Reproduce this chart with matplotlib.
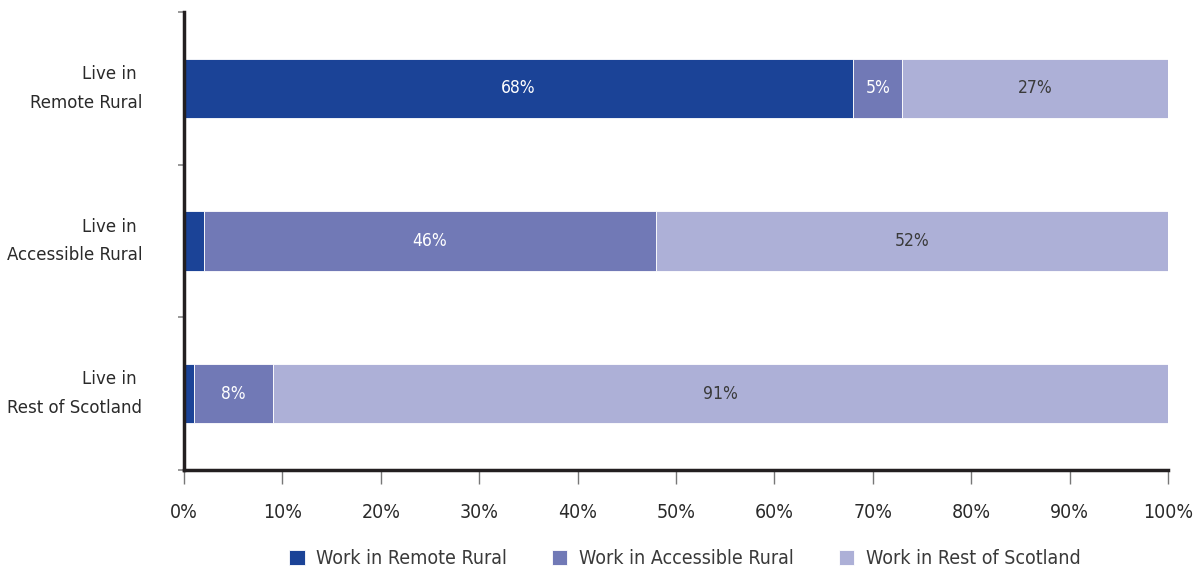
"""Where people work, by where they live"""

import matplotlib
matplotlib.use("Agg")
import matplotlib.pyplot as plt
from matplotlib import font_manager
import numpy as np

# data
categories = ['Live in \nRemote Rural', 'Live in \nAccessible Rural', 'Live in \nRest of Scotland']
series_names = ['Work in Remote Rural', 'Work in Accessible Rural', 'Work in Rest of Scotland']
remote = [68, 2, 1]
accessible = [5, 46, 8]
rest = [27, 52, 91]
labels_remote = ['68%', '', '']
labels_accessible = ['5%', '46%', '8%']
labels_rest = ['27%', '52%', '91%']

colors = ['#1b4397', '#7179b6', '#adb0d7']
text_colors = ['white', 'white', '#3a3a3a']

# the reference uses a narrow face; pick one if installed
names = {(f.name, f.stretch) for f in font_manager.fontManager.ttflist}
if any(n == 'Liberation Sans Narrow' for n, s in names):
    plt.rcParams['font.family'] = ['Liberation Sans Narrow', 'DejaVu Sans']
    scale = 1.05
elif ('DejaVu Sans', 'condensed') in names:
    plt.rcParams['font.family'] = ['DejaVu Sans']
    plt.rcParams['font.stretch'] = 'condensed'
    scale = 1.0
else:
    plt.rcParams['font.family'] = ['Liberation Sans', 'DejaVu Sans']
    scale = 0.9

fig = plt.figure(figsize=(11.96, 5.72), dpi=100)
ax = fig.add_axes([0.1538, 0.1783, 0.8228, 0.8007])

y = np.arange(len(categories))
left = np.zeros(len(categories))
for vals, labs, name, col, tcol in zip([remote, accessible, rest],
                                       [labels_remote, labels_accessible, labels_rest],
                                       series_names, colors, text_colors):
    bars = ax.barh(y, vals, left=left, height=0.39, color=col, label=name,
                   edgecolor='white', linewidth=0.6)
    ax.bar_label(bars, labels=labs, label_type='center', color=tcol, fontsize=12.5 * scale)
    left += np.array(vals)

ax.set_ylim(len(categories) - 0.5, -0.5)
ax.set_xlim(0, 100)

# x axis
ax.set_xticks(np.arange(0, 101, 10))
ax.set_xticklabels([f'{v}%' for v in range(0, 101, 10)], fontsize=14 * scale, color='#2a2a2a')
ax.tick_params(axis='x', length=10, width=1, color='#777777', pad=14)

# y axis: category labels, ticks on category boundaries
ax.set_yticks(y)
ax.set_yticklabels(categories, fontsize=13.3 * scale, color='#2a2a2a', ha='right',
                   va='center', multialignment='right', linespacing=1.75)
ax.tick_params(axis='y', length=0, pad=30)
ax.set_yticks(np.arange(-0.5, len(categories), 1), minor=True)
ax.tick_params(axis='y', which='minor', length=4, width=1.2, color='#888888')

for side in ['top', 'right']:
    ax.spines[side].set_visible(False)
for side in ['left', 'bottom']:
    ax.spines[side].set_linewidth(2.5)
    ax.spines[side].set_color('#231f20')

ax.legend(loc='upper center', bbox_to_anchor=(0.509, -0.135), ncol=3, frameon=False,
          fontsize=14 * scale, handlelength=0.8, handleheight=0.8, columnspacing=2.3,
          handletextpad=0.6, labelcolor='#3a3a3a')

fig.savefig('out.png', dpi=100)
